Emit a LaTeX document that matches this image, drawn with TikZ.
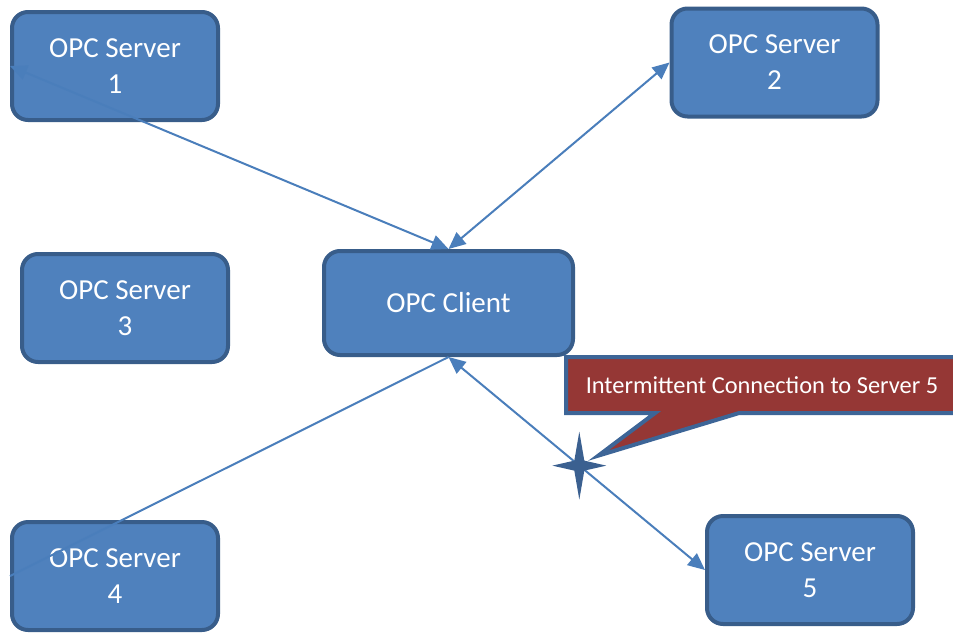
\documentclass[tikz,border=0pt]{standalone}
\usepackage{fontspec}
\setmainfont{Carlito}
\usetikzlibrary{arrows.meta,shapes.callouts}

\definecolor{boxfill}{HTML}{4F81BD}
\definecolor{boxline}{HTML}{385D8A}
\definecolor{linkblue}{HTML}{4A7EBB}
\definecolor{notered}{HTML}{953735}
\definecolor{noteline}{HTML}{3D6597}
\definecolor{starblue}{HTML}{3B6090}

\begin{document}
\begin{tikzpicture}[x=0.5pt,y=-0.5pt,
	server/.style={draw=boxline,fill=boxfill,line width=2pt,rounded corners=8pt,text=white,align=center,
		minimum width=103pt,minimum height=54pt,font=\fontsize{14.5}{18}\selectfont},
	link/.style={draw=linkblue,line width=1pt},
	both/.style={{Triangle[length=8.5pt,width=7.5pt,fill=linkblue]}-{Triangle[length=8.5pt,width=7.5pt,fill=linkblue]}},
	note/.style={shape=rectangle callout,draw=noteline,fill=notered,line width=2pt,text=white,
		minimum width=196pt,minimum height=28pt,callout pointer width=42pt,font=\fontsize{12.2}{15}\selectfont}]

\useasboundingbox (0,0) rectangle (953,632);
\clip (0,0) rectangle (953,632);

\node[server]   (s1)      at (115,66)     {OPC Server\\1};
	\node[server]   (s2)      at (774.5,62.5) {OPC Server\\2};
	\node[server]   (s3)      at (125,308)    {OPC Server\\3};
	\node[server]   (s4)      at (115,576)    {OPC Server\\4};
	\node[server]   (s5)      at (810,570)    {OPC Server\\5};
	\node[server,minimum width=124.5pt,minimum height=52pt]   (client)  at (448.5,303)   {OPC Client};

	\draw[link,both] (s1.west) -- (client.north);
	\draw[link,both] (s2.west) -- (client.north);
	\draw[link] (s4.west) -- (client.south);
	\draw[link,both] (client.south) -- (s5.west);

	\path (client.south) -- (s5.west) coordinate[pos=0.51] (brk);
	\coordinate (tip) at ([shift={(19,-10)}]brk);

	\fill[starblue,shift={(brk)}] (0,-34) -- (5,-5) -- (27,0) -- (5,5) -- (0,34) -- (-5,5) -- (-27,0) -- (-5,-5) -- cycle;

	\node[note,callout absolute pointer=(tip)] (msg) at (762,385) {Intermittent Connection to Server 5};

\end{tikzpicture}
\end{document}
